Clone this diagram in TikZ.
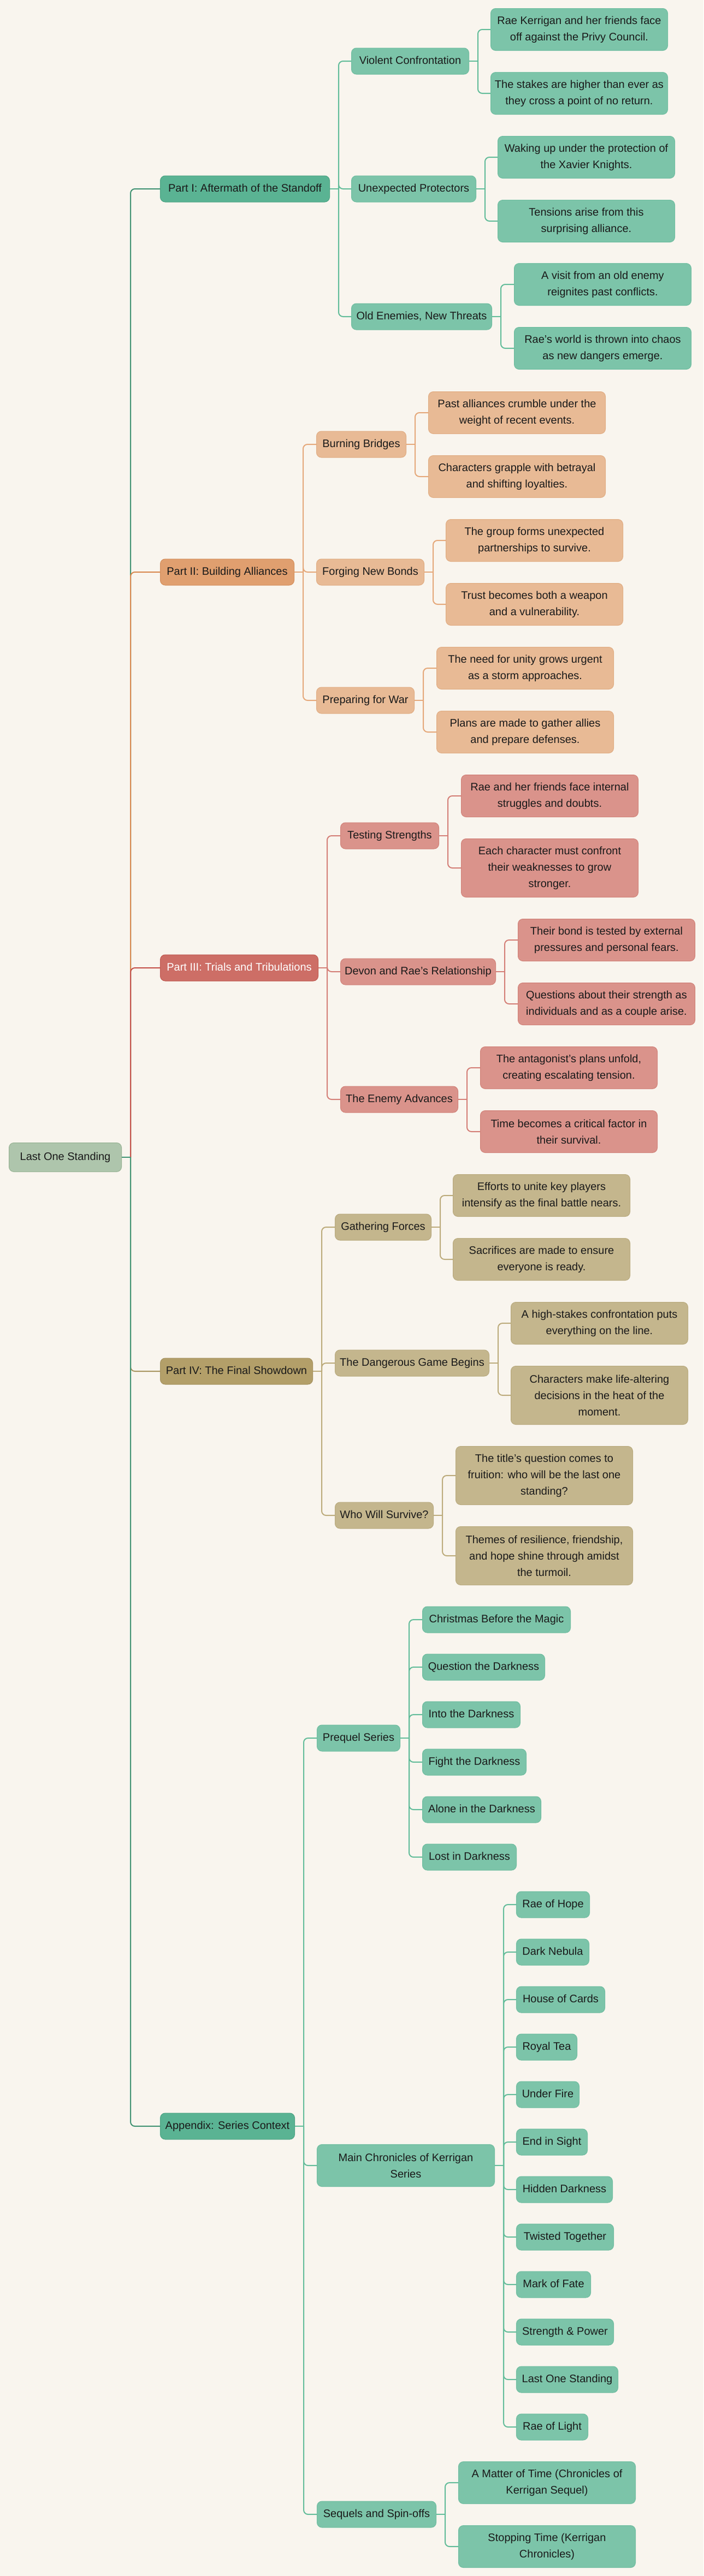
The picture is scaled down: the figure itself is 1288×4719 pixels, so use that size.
\documentclass[tikz,border=0pt]{standalone}
\usepackage{fontspec}
\setmainfont{Liberation Sans}
\usetikzlibrary{calc}
\definecolor{bg}{HTML}{F9F5EE}
\definecolor{txt}{HTML}{1A1A1A}
\definecolor{rootF}{HTML}{AEC5AC}\definecolor{rootD}{HTML}{98B394}
\definecolor{gP}{HTML}{5AB393}\definecolor{gPd}{HTML}{4DA383}
\definecolor{gS}{HTML}{7CC4A9}\definecolor{gSd}{HTML}{70BDA0}
\definecolor{gT}{HTML}{409272}\definecolor{gB}{HTML}{62BC99}
\definecolor{oP}{HTML}{E09F6F}\definecolor{oPd}{HTML}{D48F5C}
\definecolor{oS}{HTML}{E8BA95}\definecolor{oSd}{HTML}{E0AC82}
\definecolor{oT}{HTML}{D8884E}\definecolor{oB}{HTML}{E5A87A}
\definecolor{rP}{HTML}{CD6E66}\definecolor{rPd}{HTML}{C05A51}
\definecolor{rS}{HTML}{DA938B}\definecolor{rSd}{HTML}{D18279}
\definecolor{rT}{HTML}{C4514A}\definecolor{rB}{HTML}{D47F77}
\definecolor{yP}{HTML}{B39F69}\definecolor{yPd}{HTML}{A69260}
\definecolor{yS}{HTML}{C4B68D}\definecolor{ySd}{HTML}{B9AA7E}
\definecolor{yT}{HTML}{A8955F}\definecolor{yB}{HTML}{BCAB7B}
\tikzset{
  box/.style={rounded corners=9pt, line width=1pt, inner xsep=0pt, inner ysep=0pt, anchor=west, text=txt},
  one/.style={minimum height=48pt, text height=15pt, text depth=4.5pt},
  two/.style={minimum height=77pt, align=center},
  three/.style={minimum height=107pt, align=center},
  rootbox/.style={box, fill=rootF, draw=rootD},
  gpart/.style={box, fill=gP, draw=gPd},
  gsub/.style={box, fill=gS, draw=gSd},
  opart/.style={box, fill=oP, draw=oPd},
  osub/.style={box, fill=oS, draw=oSd},
  rpart/.style={box, fill=rP, draw=rPd, text=white},
  rsub/.style={box, fill=rS, draw=rSd},
  ypart/.style={box, fill=yP, draw=yPd},
  ysub/.style={box, fill=yS, draw=ySd},
  conn/.style={line width=2pt}
}
\newcommand\nd[6]{\node[#1, minimum width=#2pt] (#3) at (#4,#5) {#6};}
\newcommand\lnk[3]{%
  \draw[conn,#1] (#2.east) -- ($(#2.east)+(16,0)$);
  \draw[conn,#1,rounded corners=8pt] ($(#2.east)+(16,0)$) |- (#3.west);}
\begin{document}
\begin{tikzpicture}[x=1pt,y=-1pt,font=\fontsize{20pt}{30pt}\selectfont]
\fill[bg] (0,0) rectangle (1288,4719);
\useasboundingbox (0,0) rectangle (1288,4719);

% root
\node[rootbox, minimum width=206pt, minimum height=53pt, text height=15pt, text depth=4.5pt] (root) at (16,2120) {Last One Standing};

% parts
\nd{gpart,one}{310}{p1}{293}{346}{Part I: Aftermath of the Standoff}
\nd{opart,one}{245}{p2}{293}{1048}{Part II: Building Alliances}
\nd{rpart,one}{289}{p3}{293}{1773}{Part III: Trials and Tribulations}
\nd{ypart,one}{279}{p4}{293}{2512}{Part IV: The Final Showdown}
\nd{gpart,one}{246}{p5}{293}{3895}{Appendix: Series Context}

% Part I
\nd{gsub,one}{215}{s11}{643}{112}{Violent Confrontation}
\nd{gsub,one}{228}{s12}{643}{346}{Unexpected Protectors}
\nd{gsub,one}{257}{s13}{643}{580}{Old Enemies, New Threats}
\nd{gsub,two}{324}{l111}{898}{54}{Rae Kerrigan and her friends face\\off against the Privy Council.}
\nd{gsub,two}{324}{l112}{898}{171}{The stakes are higher than ever as\\they cross a point of no return.}
\nd{gsub,two}{324}{l121}{911}{288}{Waking up under the protection of\\the Xavier Knights.}
\nd{gsub,two}{324}{l122}{911}{405}{Tensions arise from this\\surprising alliance.}
\nd{gsub,two}{324}{l131}{941}{521}{A visit from an old enemy\\reignites past conflicts.}
\nd{gsub,two}{324}{l132}{941}{638}{Rae’s world is thrown into chaos\\as new dangers emerge.}

% Part II
\nd{osub,one}{164}{s21}{579}{814}{Burning Bridges}
\nd{osub,one}{197}{s22}{579}{1048}{Forging New Bonds}
\nd{osub,one}{179}{s23}{579}{1283}{Preparing for War}
\nd{osub,two}{324}{l211}{784}{756}{Past alliances crumble under the\\weight of recent events.}
\nd{osub,two}{324}{l212}{784}{873}{Characters grapple with betrayal\\and shifting loyalties.}
\nd{osub,two}{324}{l221}{816}{990}{The group forms unexpected\\partnerships to survive.}
\nd{osub,two}{324}{l222}{816}{1107}{Trust becomes both a weapon\\and a vulnerability.}
\nd{osub,two}{324}{l231}{799}{1224}{The need for unity grows urgent\\as a storm approaches.}
\nd{osub,two}{324}{l232}{799}{1341}{Plans are made to gather allies\\and prepare defenses.}

% Part III
\nd{rsub,one}{180}{s31}{623}{1531}{Testing Strengths}
\nd{rsub,one}{284}{s32}{623}{1780}{Devon and Rae’s Relationship}
\nd{rsub,one}{215}{s33}{623}{2014}{The Enemy Advances}
\nd{rsub,two}{324}{l311}{844}{1458}{Rae and her friends face internal\\struggles and doubts.}
\nd{rsub,three}{324}{l312}{844}{1590}{Each character must confront\\their weaknesses to grow\\stronger.}
\nd{rsub,two}{324}{l321}{948}{1722}{Their bond is tested by external\\pressures and personal fears.}
\nd{rsub,two}{324}{l322}{948}{1839}{Questions about their strength as\\individuals and as a couple arise.}
\nd{rsub,two}{324}{l331}{879}{1956}{The antagonist’s plans unfold,\\creating escalating tension.}
\nd{rsub,two}{324}{l332}{879}{2073}{Time becomes a critical factor in\\their survival.}

% Part IV
\nd{ysub,one}{176}{s41}{613}{2248}{Gathering Forces}
\nd{ysub,one}{282}{s42}{613}{2497}{The Dangerous Game Begins}
\nd{ysub,one}{180}{s43}{613}{2776}{Who Will Survive?}
\nd{ysub,two}{324}{l411}{829}{2190}{Efforts to unite key players\\intensify as the final battle nears.}
\nd{ysub,two}{324}{l412}{829}{2307}{Sacrifices are made to ensure\\everyone is ready.}
\nd{ysub,two}{324}{l421}{935}{2424}{A high-stakes confrontation puts\\everything on the line.}
\nd{ysub,three}{324}{l422}{935}{2556}{Characters make life-altering\\decisions in the heat of the\\moment.}
\nd{ysub,three}{324}{l431}{834}{2703}{The title’s question comes to\\fruition: who will be the last one\\standing?}
\nd{ysub,three}{324}{l432}{834}{2850}{Themes of resilience, friendship,\\and hope shine through amidst\\the turmoil.}

% Appendix
\nd{gsub,one}{152}{s51}{580}{3184}{Prequel Series}
\nd{gsub,two}{325}{s52}{580}{3967}{Main Chronicles of Kerrigan\\Series}
\nd{gsub,one}{218}{s53}{580}{4606}{Sequels and Spin-offs}
\nd{gsub,one}{271}{q1}{773}{2967}{Christmas Before the Magic}
\nd{gsub,one}{224}{q2}{773}{3054}{Question the Darkness}
\nd{gsub,one}{179}{q3}{773}{3141}{Into the Darkness}
\nd{gsub,one}{190}{q4}{773}{3228}{Fight the Darkness}
\nd{gsub,one}{217}{q5}{773}{3315}{Alone in the Darkness}
\nd{gsub,one}{172}{q6}{773}{3402}{Lost in Darkness}
\nd{gsub,one}{134}{m1}{945}{3489}{Rae of Hope}
\nd{gsub,one}{133}{m2}{945}{3576}{Dark Nebula}
\nd{gsub,one}{162}{m3}{945}{3663}{House of Cards}
\nd{gsub,one}{111}{m4}{945}{3750}{Royal Tea}
\nd{gsub,one}{115}{m5}{945}{3837}{Under Fire}
\nd{gsub,one}{130}{m6}{945}{3924}{End in Sight}
\nd{gsub,one}{176}{m7}{945}{4011}{Hidden Darkness}
\nd{gsub,one}{178}{m8}{945}{4098}{Twisted Together}
\nd{gsub,one}{136}{m9}{945}{4185}{Mark of Fate}
\nd{gsub,one}{178}{m10}{945}{4272}{Strength \& Power}
\nd{gsub,one}{186}{m11}{945}{4359}{Last One Standing}
\nd{gsub,one}{131}{m12}{945}{4446}{Rae of Light}
\nd{gsub,two}{324}{z1}{839}{4548}{A Matter of Time (Chronicles of\\Kerrigan Sequel)}
\nd{gsub,two}{324}{z2}{839}{4665}{Stopping Time (Kerrigan\\Chronicles)}

% trunk connectors (order matters for overlap)
\lnk{gT}{root}{p1}
\lnk{oT}{root}{p2}
\lnk{rT}{root}{p3}
\lnk{yT}{root}{p4}
\lnk{gT}{root}{p5}

% branch connectors
\foreach \c in {s11,s12,s13} {\lnk{gB}{p1}{\c}}
\lnk{gB}{s11}{l111}\lnk{gB}{s11}{l112}
\lnk{gB}{s12}{l121}\lnk{gB}{s12}{l122}
\lnk{gB}{s13}{l131}\lnk{gB}{s13}{l132}

\foreach \c in {s21,s22,s23} {\lnk{oB}{p2}{\c}}
\lnk{oB}{s21}{l211}\lnk{oB}{s21}{l212}
\lnk{oB}{s22}{l221}\lnk{oB}{s22}{l222}
\lnk{oB}{s23}{l231}\lnk{oB}{s23}{l232}

\foreach \c in {s31,s32,s33} {\lnk{rB}{p3}{\c}}
\lnk{rB}{s31}{l311}\lnk{rB}{s31}{l312}
\lnk{rB}{s32}{l321}\lnk{rB}{s32}{l322}
\lnk{rB}{s33}{l331}\lnk{rB}{s33}{l332}

\foreach \c in {s41,s42,s43} {\lnk{yB}{p4}{\c}}
\lnk{yB}{s41}{l411}\lnk{yB}{s41}{l412}
\lnk{yB}{s42}{l421}\lnk{yB}{s42}{l422}
\lnk{yB}{s43}{l431}\lnk{yB}{s43}{l432}

\foreach \c in {s51,s52,s53} {\lnk{gB}{p5}{\c}}
\foreach \c in {q1,q2,q3,q4,q5,q6} {\lnk{gB}{s51}{\c}}
\foreach \c in {m1,m2,m3,m4,m5,m6,m7,m8,m9,m10,m11,m12} {\lnk{gB}{s52}{\c}}
\lnk{gB}{s53}{z1}\lnk{gB}{s53}{z2}
\end{tikzpicture}
\end{document}
